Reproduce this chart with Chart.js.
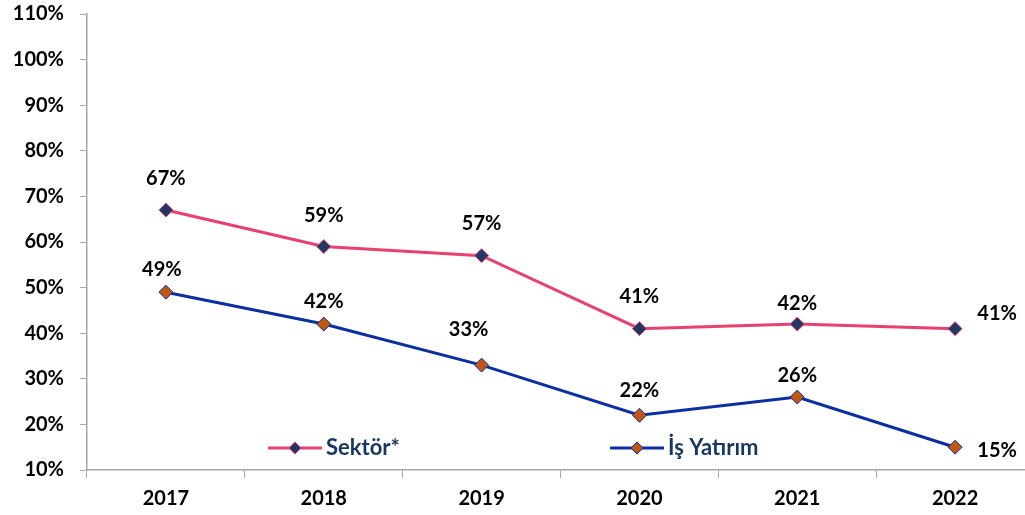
<!DOCTYPE html>
<html>
<head>
<meta charset="utf-8">
<script src="https://cdn.jsdelivr.net/npm/chart.js@4.4.0/dist/chart.umd.min.js"></script>
<style>
  html, body { margin: 0; padding: 0; background: #fff; overflow: hidden; }
  #wrap { width: 1042px; height: 515px; }
</style>
</head>
<body>
<div id="wrap"><canvas id="chart" width="1042" height="515"></canvas></div>
<script>
// veriler
const years = ["2017", "2018", "2019", "2020", "2021", "2022"];
const sektor = [67, 59, 57, 41, 42, 41];
const isYatirim = [49, 42, 33, 22, 26, 15];
const yTicks = [10, 20, 30, 40, 50, 60, 70, 80, 90, 100, 110];

const FONT = "Lato, 'Open Sans', sans-serif";
const PINK = "#E8416F";
const NAVY = "#1F3864";
const BLUE = "#0A2FA0";
const ORANGE = "#C0560F";
const TEXT = "#000000";
const LEGEND_TEXT = "#17375E";

// etiket konumlari (piksel kaydirma)
const sektorOffsets = [[0, -32], [0, -31], [0, -32], [0, -32], [0, -21], [42, -15]];
const isOffsets = [[-4, -23], [0, -23], [-13, -36], [0, -25], [0, -21], [42, 3]];

const labelPlugin = {
  id: "pointLabels",
  afterDatasetsDraw(chart) {
    const ctx = chart.ctx;
    ctx.save();
    ctx.font = "bold 20px " + FONT;
    ctx.fillStyle = TEXT;
    ctx.textAlign = "center";
    ctx.textBaseline = "middle";
    [sektorOffsets, isOffsets].forEach((offs, di) => {
      const meta = chart.getDatasetMeta(di);
      meta.data.forEach((pt, i) => {
        const v = chart.data.datasets[di].data[i];
        ctx.fillText(v + "%", pt.x + offs[i][0], pt.y + offs[i][1]);
      });
    });
    ctx.restore();
  }
};

const legendPlugin = {
  id: "inlineLegend",
  afterDraw(chart) {
    const ctx = chart.ctx;
    const items = [
      { x: 268, text: "Sektör*", line: PINK, fill: NAVY },
      { x: 610, text: "İş Yatırım", line: BLUE, fill: ORANGE }
    ];
    const y = 448;
    ctx.save();
    items.forEach(it => {
      ctx.strokeStyle = it.line;
      ctx.lineWidth = 3;
      ctx.beginPath();
      ctx.moveTo(it.x, y);
      ctx.lineTo(it.x + 54, y);
      ctx.stroke();
      const cx = it.x + 27;
      ctx.beginPath();
      ctx.moveTo(cx, y - 6);
      ctx.lineTo(cx + 6, y);
      ctx.lineTo(cx, y + 6);
      ctx.lineTo(cx - 6, y);
      ctx.closePath();
      ctx.fillStyle = it.fill;
      ctx.fill();
      ctx.lineWidth = 1;
      ctx.stroke();
      ctx.font = "bold 22px " + FONT;
      ctx.fillStyle = LEGEND_TEXT;
      ctx.textAlign = "left";
      ctx.textBaseline = "middle";
      ctx.fillText(it.text, it.x + 58, y);
    });
    ctx.restore();
  }
};

const ctx = document.getElementById("chart").getContext("2d");
new Chart(ctx, {
  type: "line",
  data: {
    labels: years,
    datasets: [
      {
        label: "Sektör*",
        data: sektor,
        borderColor: PINK,
        borderWidth: 3,
        pointStyle: "rectRot",
        pointRadius: 7,
        pointBackgroundColor: NAVY,
        pointBorderColor: PINK,
        pointBorderWidth: 1,
        tension: 0
      },
      {
        label: "İş Yatırım",
        data: isYatirim,
        borderColor: BLUE,
        borderWidth: 3,
        pointStyle: "rectRot",
        pointRadius: 7,
        pointBackgroundColor: ORANGE,
        pointBorderColor: BLUE,
        pointBorderWidth: 1,
        tension: 0
      }
    ]
  },
  options: {
    responsive: false,
    animation: false,
    layout: { padding: { top: 14, right: 0, left: 0, bottom: 0 } },
    scales: {
      x: {
        offset: true,
        grid: {
          display: true,
          offset: true,
          drawOnChartArea: false,
          drawTicks: true,
          tickLength: 8,
          color: "#A6A6A6"
        },
        border: { color: "#A6A6A6", width: 1.5 },
        ticks: {
          color: TEXT,
          font: { family: FONT, size: 20, weight: "bold" },
          padding: 9,
          maxRotation: 0
        },
        afterFit(scale) { scale.height = 45; }
      },
      y: {
        min: 10,
        max: 110,
        afterBuildTicks(scale) { scale.ticks = yTicks.map(v => ({ value: v })); },
        grid: {
          display: true,
          drawOnChartArea: false,
          drawTicks: true,
          tickLength: 7,
          color: "#A6A6A6"
        },
        border: { color: "#A6A6A6", width: 1.5 },
        ticks: {
          color: TEXT,
          font: { family: FONT, size: 20, weight: "bold" },
          padding: 16,
          callback: v => v + "%"
        },
        afterFit(scale) {
          scale.width = 87;
          scale.paddingTop = 0;
          scale.paddingBottom = 0;
        }
      }
    },
    plugins: {
      legend: { display: false },
      tooltip: { enabled: false }
    }
  },
  plugins: [labelPlugin, legendPlugin]
});
</script>
</body>
</html>
